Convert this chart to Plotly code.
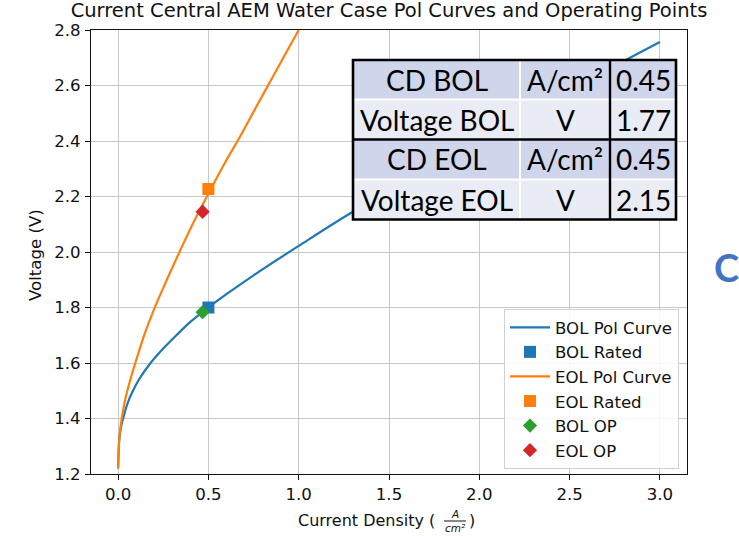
import plotly.graph_objects as go

# ---------------- data ----------------
bol_x = [0.0, 0.005, 0.01, 0.02, 0.03, 0.05, 0.08, 0.12, 0.18, 0.25, 0.32, 0.4, 0.5,
         0.6, 0.75, 1.0, 1.3, 1.6, 2.0, 2.4, 2.8, 3.0]
bol_v = [1.22, 1.31, 1.345, 1.38, 1.405, 1.45, 1.497, 1.545, 1.60, 1.652, 1.698, 1.748, 1.80,
         1.848, 1.916, 2.022, 2.145, 2.255, 2.40, 2.543, 2.688, 2.757]

eol_x = [0.0, 0.005, 0.01, 0.02, 0.04, 0.07, 0.1, 0.15, 0.2, 0.27, 0.34, 0.42, 0.5,
         0.59, 0.67, 0.76, 0.84, 0.92, 1.0]
eol_v = [1.22, 1.31, 1.35, 1.40, 1.47, 1.545, 1.61, 1.71, 1.795, 1.90, 2.00, 2.11, 2.21,
         2.32, 2.41, 2.517, 2.612, 2.706, 2.80]

bol_rated_x = [0.5]
bol_rated_v = [1.80]
eol_rated_x = [0.5]
eol_rated_v = [2.227]
bol_op_x = [0.468]
bol_op_v = [1.783]
eol_op_x = [0.468]
eol_op_v = [2.145]

x_ticks = [0.0, 0.5, 1.0, 1.5, 2.0, 2.5, 3.0]
y_ticks = [1.2, 1.4, 1.6, 1.8, 2.0, 2.2, 2.4, 2.6, 2.8]

tbl_labels = ["CD BOL", "Voltage BOL", "CD EOL", "Voltage EOL"]
tbl_units = ["A/cm²", "V", "A/cm²", "V"]
tbl_values = ["0.45", "1.77", "0.45", "2.15"]

# ---------------- layout geometry (pixels) ----------------
W, H = 739, 536
PL, PR, PT, PB = 91, 687, 30, 474


def px(p):
    return (p - PL) / (PR - PL)


def py(p):
    return (PB - p) / (PB - PT)


BLUE, ORANGE, GREEN, RED = "#1f77b4", "#ff7f0e", "#2ca02c", "#d62728"
FONT = "DejaVu Sans"
FS = 16.6
TXT = "#111"

fig = go.Figure()
fig.add_trace(go.Scatter(x=bol_x, y=bol_v, mode="lines", name="BOL Pol Curve",
                         line=dict(color=BLUE, width=2.2, shape="spline", smoothing=1.0,
                                   simplify=False)))
fig.add_trace(go.Scatter(x=bol_rated_x, y=bol_rated_v, mode="markers", name="BOL Rated",
                         marker=dict(color=BLUE, symbol="square", size=12)))
fig.add_trace(go.Scatter(x=eol_x, y=eol_v, mode="lines", name="EOL Pol Curve",
                         line=dict(color=ORANGE, width=2.2, shape="spline", smoothing=1.0,
                                   simplify=False)))
fig.add_trace(go.Scatter(x=eol_rated_x, y=eol_rated_v, mode="markers", name="EOL Rated",
                         marker=dict(color=ORANGE, symbol="square", size=12)))
fig.add_trace(go.Scatter(x=bol_op_x, y=bol_op_v, mode="markers", name="BOL OP",
                         marker=dict(color=GREEN, symbol="diamond", size=11)))
fig.add_trace(go.Scatter(x=eol_op_x, y=eol_op_v, mode="markers", name="EOL OP",
                         marker=dict(color=RED, symbol="diamond", size=11)))

axis_common = dict(
    showline=True, mirror=True, linecolor=TXT, linewidth=1.3,
    ticks="outside", ticklen=5, tickwidth=1.2, tickcolor=TXT,
    showgrid=True, gridcolor="#c8c8c8", gridwidth=1.2,
    zeroline=False, tickfont=dict(family=FONT, size=FS, color=TXT),
)
fig.update_xaxes(range=[-0.15, 3.15], tickvals=x_ticks,
                 ticktext=[f"{v:.1f}" for v in x_ticks], **axis_common)
fig.update_yaxes(range=[1.2, 2.8], tickvals=y_ticks,
                 ticktext=[f"{v:.1f}" for v in y_ticks], ticklabelstandoff=1, **axis_common)

shapes = []
annotations = []

# ---------------- inset table ----------------
col_edges = [353, 520, 610, 676]
row_edges = [60, 99.5, 139.5, 179.5, 219.5]
row_fill = ["#CFD5EA", "#E9EBF5", "#CFD5EA", "#E9EBF5"]
for r in range(4):
    shapes.append(dict(type="rect", xref="paper", yref="paper", layer="above",
                       x0=px(col_edges[0]), x1=px(col_edges[-1]),
                       y0=py(row_edges[r + 1]), y1=py(row_edges[r]),
                       fillcolor=row_fill[r], line=dict(width=0)))
# white separators
shapes.append(dict(type="line", xref="paper", yref="paper", layer="above",
                   x0=px(col_edges[1]), x1=px(col_edges[1]), y0=py(row_edges[0]), y1=py(row_edges[-1]),
                   line=dict(color="white", width=2)))
for ye in [row_edges[1], row_edges[3]]:
    shapes.append(dict(type="line", xref="paper", yref="paper", layer="above",
                       x0=px(col_edges[0]), x1=px(col_edges[-1]), y0=py(ye), y1=py(ye),
                       line=dict(color="white", width=2)))
# black lines
shapes.append(dict(type="line", xref="paper", yref="paper", layer="above",
                   x0=px(col_edges[2]), x1=px(col_edges[2]), y0=py(row_edges[0]), y1=py(row_edges[-1]),
                   line=dict(color="black", width=2.4)))
shapes.append(dict(type="line", xref="paper", yref="paper", layer="above",
                   x0=px(col_edges[0]), x1=px(col_edges[-1]), y0=py(row_edges[2]), y1=py(row_edges[2]),
                   line=dict(color="black", width=2.4)))
shapes.append(dict(type="rect", xref="paper", yref="paper", layer="above",
                   x0=px(col_edges[0]), x1=px(col_edges[-1]),
                   y0=py(row_edges[-1]), y1=py(row_edges[0]),
                   line=dict(color="black", width=2.6), fillcolor="rgba(0,0,0,0)"))

TFONT = dict(family="Lato", size=28, color="black")
for r in range(4):
    yc = py((row_edges[r] + row_edges[r + 1]) / 2)
    for c, txt in enumerate([tbl_labels[r], tbl_units[r], tbl_values[r]]):
        xc = px((col_edges[c] + col_edges[c + 1]) / 2)
        annotations.append(dict(xref="paper", yref="paper", x=xc, y=yc, text=txt,
                                showarrow=False, xanchor="center", yanchor="middle",
                                font=TFONT))

# ---------------- side letter ----------------
annotations.append(dict(xref="paper", yref="paper", x=px(712), y=py(267), text="<b>C</b>",
                        showarrow=False, xanchor="left", yanchor="middle",
                        font=dict(family="Lato", size=38, color="#4472C4")))

# ---------------- axis titles ----------------
annotations.append(dict(xref="paper", yref="paper", x=px(35), y=py(255), text="Voltage (V)",
                        textangle=-90, showarrow=False, xanchor="center", yanchor="middle",
                        font=dict(family=FONT, size=FS, color=TXT)))
annotations.append(dict(xref="paper", yref="paper", x=px(437), y=py(520),
                        text="Current Density (", showarrow=False, xanchor="right",
                        yanchor="middle", font=dict(family=FONT, size=16, color=TXT)))
annotations.append(dict(xref="paper", yref="paper", x=px(455), y=py(514), text="<i>A</i>",
                        showarrow=False, xanchor="center", yanchor="middle",
                        font=dict(family=FONT, size=10.5, color=TXT)))
annotations.append(dict(xref="paper", yref="paper", x=px(455), y=py(528), text="<i>cm²</i>",
                        showarrow=False, xanchor="center", yanchor="middle",
                        font=dict(family=FONT, size=10.5, color=TXT)))
shapes.append(dict(type="line", xref="paper", yref="paper", x0=px(444), x1=px(466),
                   y0=py(521), y1=py(521), line=dict(color=TXT, width=1)))
annotations.append(dict(xref="paper", yref="paper", x=px(467), y=py(520), text=")",
                        showarrow=False, xanchor="left", yanchor="middle",
                        font=dict(family=FONT, size=16, color=TXT)))

fig.update_layout(
    width=W, height=H,
    margin=dict(l=PL, r=W - PR, t=PT, b=H - PB),
    paper_bgcolor="white", plot_bgcolor="white",
    title=dict(text="Current Central AEM Water Case Pol Curves and Operating Points",
               x=px((PL + PR) / 2), xref="paper", xanchor="center",
               y=1 - 10 / H, yref="container", yanchor="middle",
               font=dict(family=FONT, size=19.5, color=TXT)),
    legend=dict(x=px(679), y=py(309), xanchor="right", yanchor="top",
                bgcolor="rgba(255,255,255,0.85)", bordercolor="#d0d0d0", borderwidth=1,
                font=dict(family=FONT, size=FS, color=TXT), itemwidth=40,
                tracegroupgap=0),
    shapes=shapes, annotations=annotations,
    showlegend=True,
)

fig.write_html("out.html", config={"displayModeBar": False},
               post_script="document.body.style.margin='0';document.body.style.overflow='hidden';")
